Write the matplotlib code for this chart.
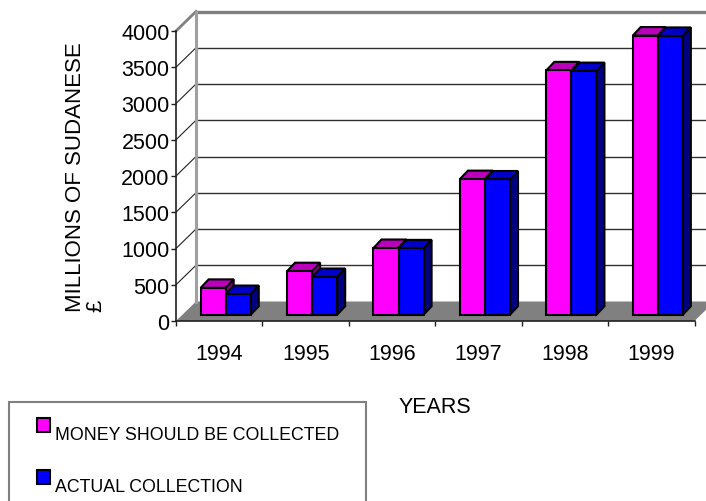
import matplotlib
matplotlib.use("Agg")
import matplotlib.pyplot as plt
from matplotlib.patches import Polygon, Rectangle
import numpy as np

# data (millions of Sudanese pounds)
years = ["1994", "1995", "1996", "1997", "1998", "1999"]
should_collect = [370, 600, 920, 1870, 3370, 3850]
actual_collection = [285, 520, 915, 1865, 3360, 3845]
series_names = ["MONEY SHOULD BE COLLECTED", "ACTUAL COLLECTION"]
yticks = list(range(0, 4001, 500))

plt.rcParams['font.family'] = ['Liberation Sans', 'DejaVu Sans']

W, H = 706, 502
fig = plt.figure(figsize=(W / 100, H / 100), dpi=100)
# front plane of the 3d box: x 176..694.5 px, y (from top) 32..322 px
ax = fig.add_axes([176 / W, (H - 322) / H, 518.5 / W, 290 / H])
ax.set_xlim(0, len(years))
ax.set_ylim(0, 4000)
ax.patch.set_visible(False)

# pixel -> data helpers for the fake depth
pxx = len(years) / 518.5
pxy = 4000 / 290.0
WX, WY = 20 * pxx, 19.5 * pxy      # wall depth
FX, FY = 6.5 * pxx, 6.3 * pxy      # bar front offset
BX, BY = 8 * pxx, 8.5 * pxy        # bar depth
n = len(years)

# floor
ax.add_patch(Polygon([(0, 0), (n, 0), (n + WX, WY), (WX, WY)], closed=True,
                     facecolor='#808080', edgecolor='none', clip_on=False, zorder=1))
# back wall grid and side wall diagonals
for v in yticks[1:-1]:
    ax.plot([WX, n + WX + 1], [v + WY, v + WY], color='#303030', lw=1.0,
            clip_on=False, zorder=1)
    ax.plot([0, WX], [v, v + WY], color='#202020', lw=0.8, clip_on=False, zorder=1)
ax.plot([WX, n + WX + 1], [4000 + WY, 4000 + WY], color='#808080', lw=2.4,
        clip_on=False, zorder=1)
ax.plot([0, WX], [4000, 4000 + WY], color='#808080', lw=2.0, clip_on=False, zorder=1)
ax.plot([WX, WX], [WY, 4000 + WY], color='#a0a0a0', lw=2.2, clip_on=False, zorder=1)

# bars
w = 0.29
centers = np.arange(n) + 0.5
face_cols = ['#FF00FF', '#0000FF']
top_cols = ['#BB00BB', '#0000C8']
side_cols = ['#800080', '#000080']
z = 3
for i in range(n):
    for s, vals in enumerate([should_collect, actual_collection]):
        v = vals[i]
        x0 = centers[i] - w + s * w + FX
        top = [(x0, FY + v), (x0 + w, FY + v), (x0 + w + BX, FY + v + BY), (x0 + BX, FY + v + BY)]
        side = [(x0 + w, FY), (x0 + w + BX, FY + BY), (x0 + w + BX, FY + v + BY), (x0 + w, FY + v)]
        ax.add_patch(Polygon(top, closed=True, facecolor=top_cols[s], edgecolor='black',
                             lw=1.5, joinstyle='miter', clip_on=False, zorder=z))
        ax.add_patch(Polygon(side, closed=True, facecolor=side_cols[s], edgecolor='black',
                             lw=1.5, joinstyle='miter', clip_on=False, zorder=z))
        ax.bar(x0, v, width=w, bottom=FY, align='edge', color=face_cols[s],
               edgecolor='black', lw=1.5, clip_on=False, zorder=z + 0.5)
        z += 1

# axes
for sp in ['top', 'right']:
    ax.spines[sp].set_visible(False)
for sp in ['left', 'bottom']:
    ax.spines[sp].set_color('#202020')
    ax.spines[sp].set_linewidth(1.2)
    ax.spines[sp].set_zorder(2)

ax.set_yticks(yticks)
ax.set_yticklabels([str(t) for t in yticks])
ax.tick_params(axis='y', direction='out', length=3.6, width=1, color='#202020',
               labelsize=15.5, pad=1)
ax.set_xticks(np.arange(n + 1))
ax.set_xticklabels([])
ax.set_xticks(centers, minor=True)
ax.set_xticklabels(years, minor=True)
ax.tick_params(axis='x', which='major', direction='out', length=3.6, width=1, color='#202020')
ax.tick_params(axis='x', which='minor', length=0, labelsize=15.5, pad=16)

ax.set_xlabel("YEARS", fontsize=15.5, labelpad=23)
ax.set_ylabel("MILLIONS OF SUDANESE\n£", fontsize=16, labelpad=10.5,
              multialignment='left', linespacing=0.95)

# legend box
def fx(p):
    return p / W

def fy(p):
    return 1 - p / H

fig.add_artist(Rectangle((fx(9), fy(515)), fx(366) - fx(9), fy(403.3) - fy(515),
                         transform=fig.transFigure, facecolor='none',
                         edgecolor='#808080', lw=1.5))
for k, (top_px, base_px) in enumerate([(419, 440), (471, 491.7)]):
    fig.add_artist(Rectangle((fx(37), fy(top_px + 13.5)), fx(13.3), 13.5 / H,
                             transform=fig.transFigure, facecolor=face_cols[k],
                             edgecolor='black', lw=1.5))
    fig.text(fx(55), fy(base_px), series_names[k], fontsize=12.8, va='baseline', ha='left')

fig.savefig("out.png", dpi=100)
